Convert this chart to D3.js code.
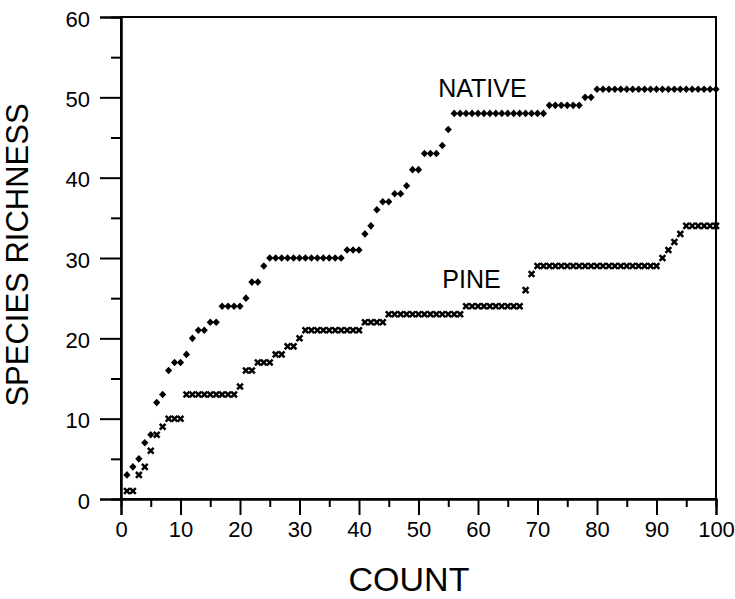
<!DOCTYPE html>
<html><head><meta charset="utf-8">
<script src="https://cdn.jsdelivr.net/npm/d3@7"></script>
<style>
html,body{margin:0;padding:0;background:#fff;}
svg text{font-family:"Liberation Sans",Arial,Helvetica,sans-serif;fill:#000;}
</style></head>
<body>
<svg id="chart" width="735" height="599"></svg>
<script>
// ---- data ----
const counts = d3.range(1, 101);
const nativeValues = [
  3,4,5,7,8,12,13,16,17,17,
  18,20,21,21,22,22,24,24,24,24,
  25,27,27,29,30,30,30,30,30,30,
  30,30,30,30,30,30,30,31,31,31,
  33,34,36,37,37,38,38,39,41,41,
  43,43,43,44,46,48,48,48,48,48,
  48,48,48,48,48,48,48,48,48,48,
  48,49,49,49,49,49,49,50,50,51,
  51,51,51,51,51,51,51,51,51,51,
  51,51,51,51,51,51,51,51,51,51
];
const pineValues = [
  1,1,3,4,6,8,9,10,10,10,
  13,13,13,13,13,13,13,13,13,14,
  16,16,17,17,17,18,18,19,19,20,
  21,21,21,21,21,21,21,21,21,21,
  22,22,22,22,23,23,23,23,23,23,
  23,23,23,23,23,23,23,24,24,24,
  24,24,24,24,24,24,24,26,28,29,
  29,29,29,29,29,29,29,29,29,29,
  29,29,29,29,29,29,29,29,29,29,
  30,31,32,33,34,34,34,34,34,34
];
const xMajorTicks = [0,10,20,30,40,50,60,70,80,90,100];
const xMinorTicks = [5,15,25,35,45,55,65,75,85,95];
const yMajorTicks = [0,10,20,30,40,50,60];
const yMinorTicks = [5,15,25,35,45,55];
const seriesLabels = ["NATIVE","PINE"];
const labelPositions = [[53.3, 50.0],[54, 26.3]]; // data coords of label baseline start
const xTitle = "COUNT";
const yTitle = "SPECIES RICHNESS";

// ---- layout ----
const svg = d3.select("#chart");
const L = 121, R = 716, T = 17, B = 499;
const x = d3.scaleLinear().domain([0,100]).range([L,R]);
const y = d3.scaleLinear().domain([0,60]).range([B,T]);

// frame
svg.append("rect").attr("x",L).attr("y",T).attr("width",R-L).attr("height",B-T)
  .attr("fill","none").attr("stroke","#000").attr("stroke-width",2);

// axes
const fs = "22px";
const gx = svg.append("g").attr("transform",`translate(0,${B})`)
  .call(d3.axisBottom(x).tickValues(xMajorTicks).tickSize(16).tickPadding(6).tickFormat(d3.format("d")));
const gxm = svg.append("g").attr("transform",`translate(0,${B})`)
  .call(d3.axisBottom(x).tickValues(xMinorTicks).tickSize(8).tickFormat(""));
const gy = svg.append("g").attr("transform",`translate(${L},0)`)
  .call(d3.axisLeft(y).tickValues(yMajorTicks).tickSize(21).tickPadding(10).tickFormat(d3.format("d")));
const gym = svg.append("g").attr("transform",`translate(${L},0)`)
  .call(d3.axisLeft(y).tickValues(yMinorTicks).tickSize(10).tickFormat(""));
[gx,gxm,gy,gym].forEach(g=>{
  g.select(".domain").attr("stroke","#000").attr("stroke-width",2);
  g.selectAll(".tick line").attr("stroke","#000").attr("stroke-width",2);
  g.selectAll(".tick text").attr("font-size",fs).attr("font-family","'Liberation Sans',Arial,sans-serif").attr("fill","#000");
});
gy.selectAll(".tick text").attr("dy","0.42em");

// series
const nat = counts.map((c,i)=>({c, v: nativeValues[i]}));
const pin = counts.map((c,i)=>({c, v: pineValues[i]}));
const dw = 3.6, dh = 3.8;
svg.append("g").selectAll("path").data(nat).join("path")
  .attr("d", `M0,${-dh}L${dw},0L0,${dh}L${-dw},0Z`)
  .attr("transform", d=>`translate(${x(d.c)},${y(d.v)})`)
  .attr("fill","#000");
const xs = 2.9;
svg.append("g").selectAll("path").data(pin).join("path")
  .attr("d", `M${-xs},${-xs}L${xs},${xs}M${-xs},${xs}L${xs},${-xs}`)
  .attr("transform", d=>`translate(${x(d.c)},${y(d.v)})`)
  .attr("stroke","#000").attr("stroke-width",2.5).attr("fill","none");

// series labels
seriesLabels.forEach((t,i)=>{
  svg.append("text").attr("x", x(labelPositions[i][0])).attr("y", y(labelPositions[i][1]))
    .attr("font-size","25px").text(t);
});

// titles
svg.append("text").attr("x", 409).attr("y", 591).attr("text-anchor","middle")
  .attr("font-size","34px").text(xTitle);
svg.append("text").attr("transform","translate(28,255) rotate(-90)").attr("text-anchor","middle")
  .attr("font-size","31px").text(yTitle);
</script>
</body></html>
